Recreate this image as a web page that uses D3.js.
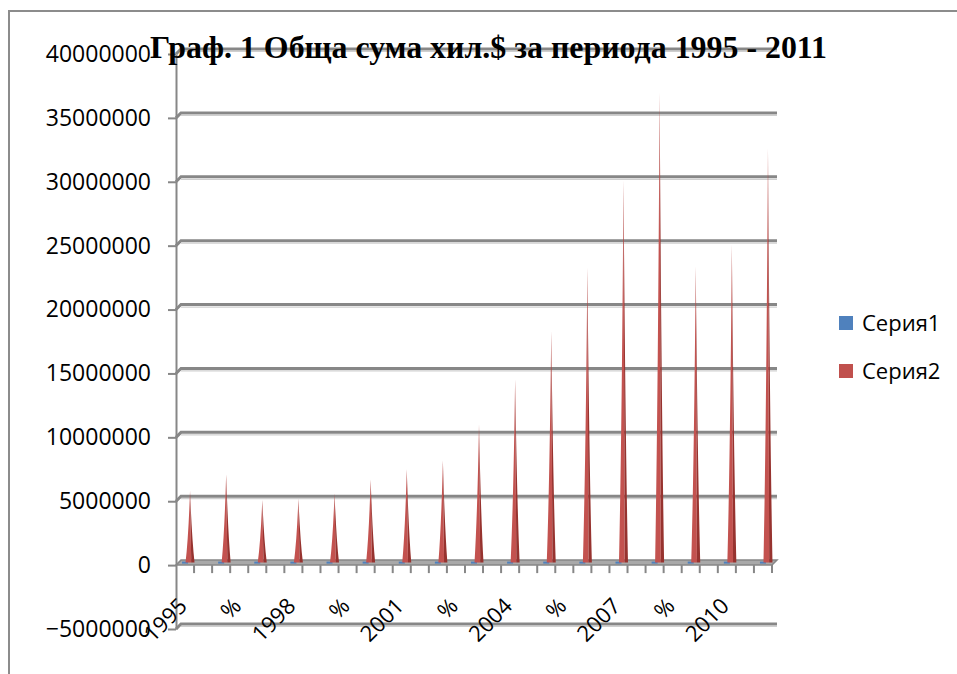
<!DOCTYPE html>
<html lang="bg">
<head>
<meta charset="UTF-8">
<title>Граф. 1 Обща сума хил.$ за периода 1995 - 2011</title>
<script src="https://d3js.org/d3.v7.min.js"></script>
<style>
    body { margin: 0; background: #fff; }
    svg { display: block; }
    .lbl { font-family: "Open Sans", sans-serif; fill: #000; }
</style>
</head>
<body>
<svg id="canvas" width="957" height="674"></svg>
<script>
    // categories as they come from the sheet: year rows and "%" rows
    const categories = ['1995','%','1996','%','1997','%','1998','%','1999','%','2000','%',
                        '2001','%','2002','%','2003','%','2004','%','2005','%','2006','%',
                        '2007','%','2008','%','2009','%','2010','%','2011'];
    // Серия1 - tiny values, invisible at this scale
    const series1 = [1995,0,1996,0,1997,0,1998,0,1999,0,2000,0,2001,0,2002,0,2003,0,
                     2004,0,2005,0,2006,0,2007,0,2008,0,2009,0,2010,0,2011];
    // Серия2 - total, thousand $
    const series2 = [5600000,0,6900000,0,4900000,0,5000000,0,5400000,0,6500000,0,
                     7300000,0,8000000,0,10800000,0,14350000,0,18100000,0,23100000,0,
                     29900000,0,36800000,0,23200000,0,24900000,0,32400000];
    const yTicks = [-5000000,0,5000000,10000000,15000000,20000000,25000000,30000000,35000000,40000000];
    const legendNames = ['Серия1','Серия2'];
    const legendColors = ['#4F81BD','#C0504D'];
    const title = 'Граф. 1 Обща сума хил.$ за периода 1995 - 2011';

    const svg = d3.select('#canvas');
    const dx = 5, dy = -5;   // 3d depth offset front -> back
    const gridColor = '#878787';

    // outer frame (only top and left visible)
    svg.append('path')
        .attr('d', 'M9,674 L9,11 L957,11')
        .attr('fill', 'none')
        .attr('stroke', '#8c8c8c')
        .attr('stroke-width', 2);

    let yFront = d3.scaleLinear().domain([-5000000, 40000000]).range([629, 54]);
    let yBack = d3.scaleLinear().domain([-5000000, 40000000]).range([629 + dy, 54 + dy]);
    let yMid = d3.scaleLinear().domain([-5000000, 40000000]).range([629 + dy / 2, 54 + dy / 2]);
    let x = d3.scaleBand().domain(d3.range(categories.length)).range([176, 772]);

    const x0 = 176, x1 = 772;

    // gridlines on the back wall
    let grid = svg.append('g');
    yTicks.forEach(function(v){
        if(v === 0) return;
        let yb = yBack(v), yf = yFront(v);
        grid.append('path')
            .attr('d', `M${x0},${yf} L${x0 + dx},${yb} L${x1 + dx},${yb}`)
            .attr('fill', 'none')
            .attr('stroke', gridColor)
            .attr('stroke-width', 3);
        grid.append('line')
            .attr('x1', x0 + dx).attr('x2', x1 + dx)
            .attr('y1', yb + 2.5).attr('y2', yb + 2.5)
            .attr('stroke', '#cfcfcf')
            .attr('stroke-width', 1.2);
    });

    // floor at 0
    let f0 = yFront(0), b0 = yBack(0);
    svg.append('path')
        .attr('d', `M${x0},${f0} L${x1},${f0} L${x1 + dx},${b0} L${x0 + dx},${b0} Z`)
        .attr('fill', '#a9a9a9')
        .attr('stroke', gridColor)
        .attr('stroke-width', 1.5);

    // category ticks below the floor
    let xt = svg.append('g');
    categories.forEach(function(c, i){
        let tx = x(i) + x.bandwidth();
        xt.append('line')
            .attr('x1', tx).attr('x2', tx)
            .attr('y1', f0).attr('y2', f0 + 8)
            .attr('stroke', gridColor)
            .attr('stroke-width', 2);
    });

    // y axis (front edge)
    let yAxis = d3.axisLeft(yFront)
        .tickValues(yTicks)
        .tickFormat(d3.format('d'))
        .tickSize(8)
        .tickSizeOuter(0)
        .tickPadding(17);
    let ya = svg.append('g')
        .attr('transform', `translate(${x0},0)`)
        .call(yAxis);
    ya.select('.domain').attr('stroke', gridColor).attr('stroke-width', 2);
    ya.selectAll('.tick line').attr('stroke', gridColor).attr('stroke-width', 2);
    ya.selectAll('.tick text')
        .attr('class', 'lbl')
        .style('font-size', '23px');

    // cones
    let cones = svg.append('g');
    let base = yMid(0);
    categories.forEach(function(c, i){
        let cx = x(i) + x.bandwidth() / 2;
        // Серия1
        if(series1[i] > 0){
            cones.append('rect')
                .attr('x', cx - 3).attr('y', base - 1)
                .attr('width', 6).attr('height', 2)
                .attr('fill', legendColors[0]);
        }
        // Серия2
        if(series2[i] > 0){
            let sx = cx + 5, top = yMid(series2[i]);
            let h = base - top;
            // slightly concave sides, like the rendered cones
            cones.append('path')
                .attr('d', `M${sx - 4.5},${base} Q${sx - 1.6},${base - h * 0.35} ${sx},${top} L${sx + 1.2},${base} Z`)
                .attr('fill', '#C3524F');
            cones.append('path')
                .attr('d', `M${sx + 1.2},${base} L${sx},${top} Q${sx + 1.8},${base - h * 0.35} ${sx + 4.5},${base} Z`)
                .attr('fill', '#97332F');
        }
    });

    // category labels, every third
    let xl = svg.append('g');
    categories.forEach(function(c, i){
        if(i % 3 !== 0) return;
        let cx = x(i) + x.bandwidth() / 2;
        xl.append('text')
            .attr('class', 'lbl')
            .attr('transform', `translate(${cx - 2},602) rotate(-45)`)
            .attr('text-anchor', 'end')
            .attr('dy', '0.35em')
            .style('font-size', '22px')
            .text(c);
    });

    // title
    svg.append('text')
        .attr('x', 150)
        .attr('y', 58)
        .attr('textLength', 677)
        .attr('lengthAdjust', 'spacingAndGlyphs')
        .style('font-family', '"Liberation Serif", serif')
        .style('font-weight', 'bold')
        .style('font-size', '31px')
        .text(title);

    // legend
    let lg = svg.append('g');
    legendNames.forEach(function(n, i){
        let ly = 316 + i * 48;
        lg.append('rect')
            .attr('x', 839).attr('y', ly)
            .attr('width', 14).attr('height', 14)
            .attr('fill', legendColors[i]);
        lg.append('text')
            .attr('class', 'lbl')
            .attr('x', 862).attr('y', ly + 7)
            .attr('dy', '0.35em')
            .style('font-size', '22px')
            .text(n);
    });
</script>
</body>
</html>
